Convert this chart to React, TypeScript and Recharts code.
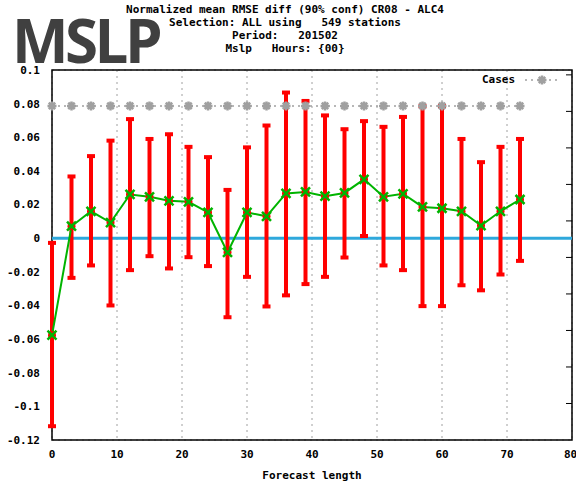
import {
  ComposedChart,
  Line,
  XAxis,
  YAxis,
  CartesianGrid,
  ErrorBar,
  ReferenceLine,
  ReferenceArea,
} from "recharts";

// forecast lengths (hours)
const leadTimes = [0, 3, 6, 9, 12, 15, 18, 21, 24, 27, 30, 33, 36, 39, 42, 45, 48, 51, 54, 57, 60, 63, 66, 69, 72];
// normalized mean RMSE diff
const meanDiff = [
  -0.0577, 0.0071, 0.016, 0.0093, 0.026, 0.0246, 0.0222, 0.0216, 0.0153, -0.0085, 0.0153, 0.013, 0.0266,
  0.0275, 0.025, 0.0269, 0.035, 0.0246, 0.0264, 0.0186, 0.0178, 0.016, 0.0075, 0.016, 0.023,
];
// 90% confidence bounds
const lowerBound = [
  -0.1118, -0.0236, -0.0162, -0.04, -0.019, -0.0107, -0.018, -0.0113, -0.0166, -0.047, -0.023, -0.0406, -0.034,
  -0.0273, -0.023, -0.0115, 0.0013, -0.0162, -0.019, -0.0404, -0.0404, -0.028, -0.031, -0.0216, -0.0135,
];
const upperBound = [
  -0.0028, 0.0367, 0.0488, 0.058, 0.0708, 0.059, 0.0618, 0.0543, 0.0482, 0.0287, 0.054, 0.067, 0.0866,
  0.0816, 0.073, 0.0648, 0.0696, 0.0662, 0.0721, 0.0785, 0.0785, 0.059, 0.0452, 0.0543, 0.059,
];
// number of stations per lead time
const cases = leadTimes.map(() => 549);

const xTicks = [0, 10, 20, 30, 40, 50, 60, 70, 80];
const yTicks = [0.1, 0.08, 0.06, 0.04, 0.02, 0, -0.02, -0.04, -0.06, -0.08, -0.1, -0.12];
const y2Ticks = [60, 120, 180, 240, 300, 360, 420, 480, 540, 600];

const titleLines = [
  "Normalized mean RMSE diff (90% conf) CR08 - ALC4",
  "Selection: ALL using   549 stations",
  "Period:   201502",
  "Mslp   Hours: {00}",
];

const data = leadTimes.map((t, i) => ({
  t,
  mean: meanDiff[i],
  err: [meanDiff[i] - lowerBound[i], upperBound[i] - meanDiff[i]],
  cases: cases[i],
}));

const MONO = "'DejaVu Sans Mono', monospace";
const RED = "#ff0000";
const GREEN = "#00b400";
const GREY = "#a0a0a0";

const CrossDot = (props: any) => {
  const { cx, cy } = props;
  if (cx == null || cy == null) return null;
  const s = 4.5;
  return (
    <g>
      <circle cx={cx} cy={cy} r={4} fill={RED} />
      <path
        d={`M${cx - s},${cy - s}L${cx + s},${cy + s}M${cx - s},${cy + s}L${cx + s},${cy - s}`}
        stroke={GREEN}
        strokeWidth={2.5}
      />
    </g>
  );
};

const StarDot = (props: any) => {
  const { cx, cy } = props;
  if (cx == null || cy == null) return null;
  return <Star cx={cx} cy={cy} />;
};

function Star({ cx, cy }: { cx: number; cy: number }) {
  const s = 4.5;
  const d = 3.2;
  return (
    <path
      d={`M${cx - s},${cy}L${cx + s},${cy}M${cx},${cy - s}L${cx},${cy + s}M${cx - d},${cy - d}L${cx + d},${cy + d}M${cx - d},${cy + d}L${cx + d},${cy - d}`}
      stroke={GREY}
      strokeWidth={2.5}
    />
  );
}

const fmtY = (v: number) => (v === 0 ? "0" : String(Number(v.toFixed(2))));

export default function App() {
  return (
    <div style={{ position: "absolute", left: 0, top: 0, width: 576, height: 485, background: "#fff" }}>
      <div
        style={{
          position: "absolute",
          left: 12,
          top: 17,
          fontFamily: "'Open Sans', sans-serif",
          fontWeight: 700,
          fontSize: 60,
          letterSpacing: -3.5,
          color: "#404040",
          lineHeight: "46px",
        }}
      >
        MSLP
      </div>
      <div
        style={{
          position: "absolute",
          left: 4,
          top: 3,
          width: 562,
          textAlign: "center",
          fontFamily: MONO,
          fontWeight: 700,
          fontSize: 11,
          lineHeight: "13px",
          whiteSpace: "pre",
        }}
      >
        {titleLines.map((l) => (
          <div key={l}>{l}</div>
        ))}
      </div>
      <ComposedChart
        width={576}
        height={485}
        data={data}
        margin={{ top: 70, right: 0, left: 0, bottom: 0 }}
        style={{ position: "absolute", left: 0, top: 0 }}
      >
        <CartesianGrid stroke={GREY} strokeDasharray="2 4" strokeWidth={1} />
        <XAxis
          dataKey="t"
          type="number"
          domain={[0, 80]}
          ticks={xTicks}
          height={45}
          axisLine={false}
          tickLine={false}
          tick={{ fontFamily: MONO, fontWeight: 700, fontSize: 11, fill: "#000" }}
          tickMargin={4}
          label={{
            value: "Forecast length",
            position: "insideBottom",
            offset: 6,
            style: { fontFamily: MONO, fontWeight: 700, fontSize: 11, fill: "#000" },
          }}
        />
        <YAxis
          yAxisId="left"
          type="number"
          domain={[-0.12, 0.1]}
          ticks={yTicks}
          width={52}
          axisLine={false}
          tickLine={false}
          tickFormatter={fmtY}
          tick={{ fontFamily: MONO, fontWeight: 700, fontSize: 11, fill: "#000" }}
          tickMargin={6}
          interval={0}
        />
        <YAxis
          yAxisId="right"
          orientation="right"
          type="number"
          domain={[0, 608]}
          ticks={y2Ticks}
          width={4}
          axisLine={false}
          tickLine={{ stroke: "#000" }}
          tickSize={-6}
          tick={() => <g />}
          interval={0}
        />
        <ReferenceArea
          yAxisId="left"
          x1={0}
          x2={80}
          y1={-0.12}
          y2={0.1}
          fill="none"
          stroke="#000"
          strokeWidth={1.5}
        />
        <ReferenceLine yAxisId="left" y={0} stroke="#2ea8dc" strokeWidth={3} />
        <Line
          yAxisId="right"
          dataKey="cases"
          stroke={GREY}
          strokeWidth={1.5}
          strokeDasharray="2 4"
          dot={<StarDot />}
          isAnimationActive={false}
        />
        <Line
          yAxisId="left"
          dataKey="mean"
          stroke="none"
          dot={false}
          activeDot={false}
          isAnimationActive={false}
        >
          <ErrorBar dataKey="err" direction="y" width={4} stroke={RED} strokeWidth={4} isAnimationActive={false} />
        </Line>
        <Line
          yAxisId="left"
          dataKey="mean"
          stroke={GREEN}
          strokeWidth={2}
          dot={<CrossDot />}
          isAnimationActive={false}
        />
      </ComposedChart>
      <div
        style={{
          position: "absolute",
          left: 482,
          top: 73,
          fontFamily: MONO,
          fontWeight: 700,
          fontSize: 11,
          lineHeight: "13px",
        }}
      >
        Cases
      </div>
      <svg style={{ position: "absolute", left: 522, top: 72, width: 40, height: 16 }}>
        <line x1={3} y1={8} x2={37} y2={8} stroke={GREY} strokeWidth={1.5} strokeDasharray="2 4" />
        <Star cx={20} cy={8} />
      </svg>
    </div>
  );
}
